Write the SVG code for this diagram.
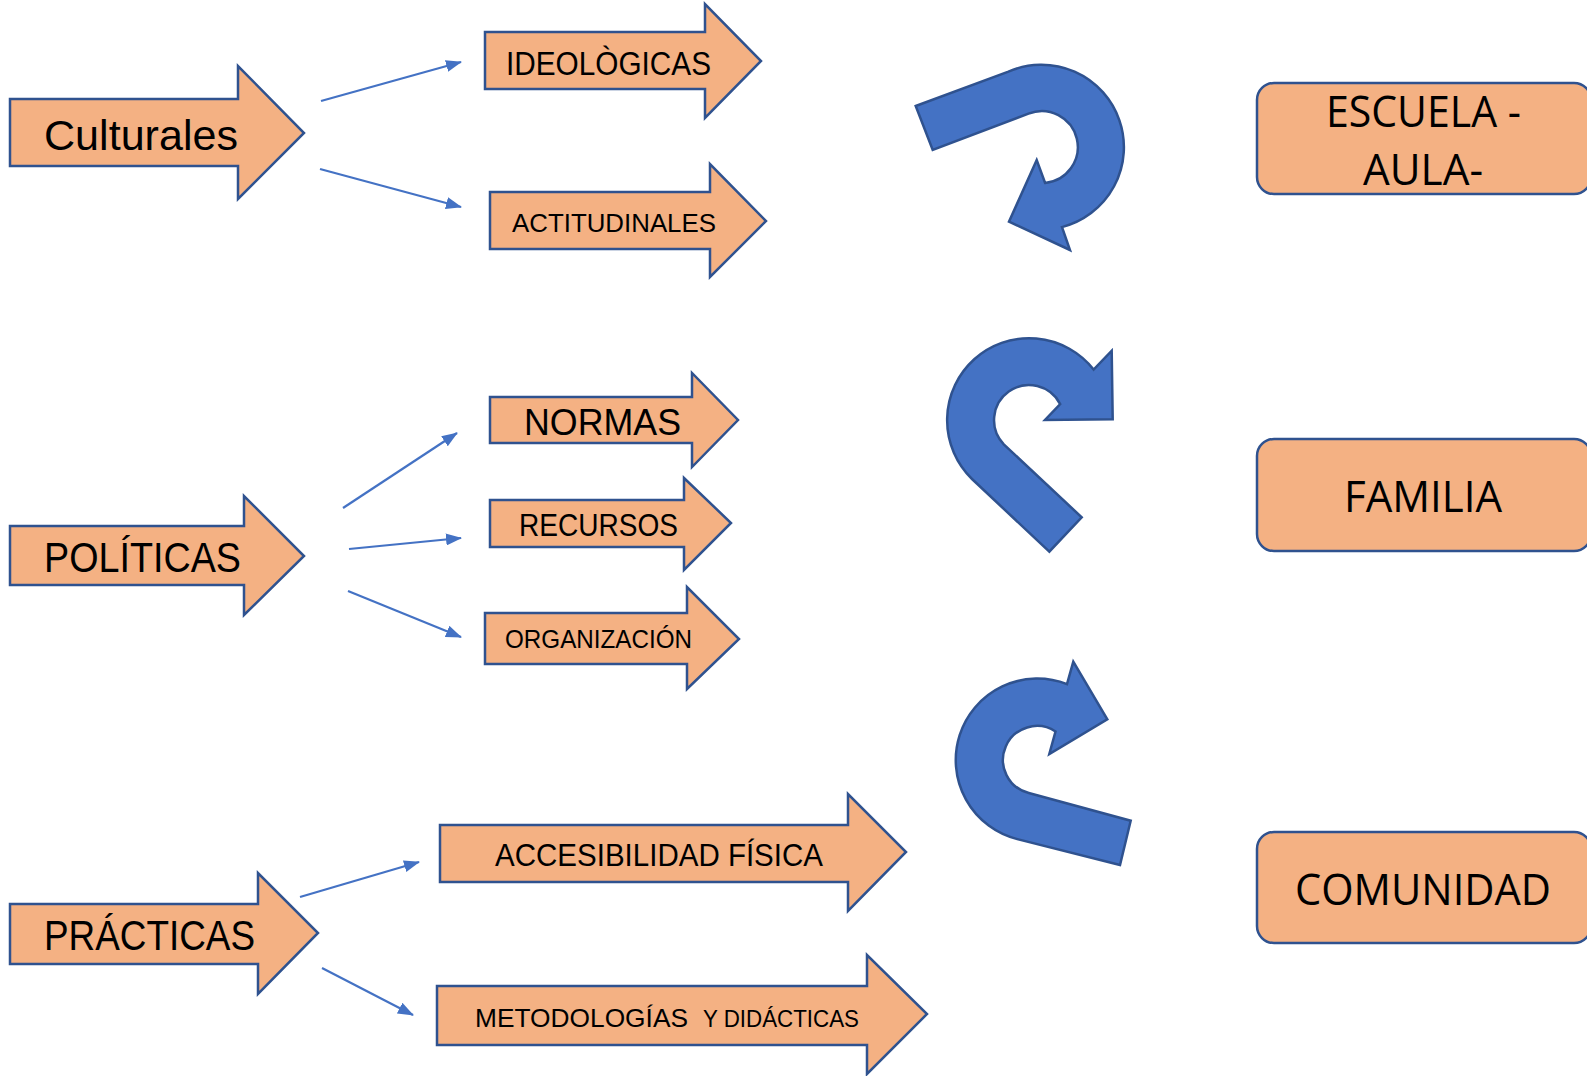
<svg xmlns="http://www.w3.org/2000/svg" width="1587" height="1076" viewBox="0 0 1587 1076">
<defs>
<style>
.blk{fill:#F4B183;stroke:#2F528F;stroke-width:2.5;stroke-linejoin:miter}
.box{fill:#F4B183;stroke:#2F528F;stroke-width:2.5}
.curl{fill:#4472C4;stroke:#2F528F;stroke-width:2.5;stroke-linejoin:miter}
.lbl{font-family:"Liberation Sans",Arial,sans-serif;fill:#000}
.rl{font-family:"Open Sans","Liberation Sans",sans-serif;fill:#000;text-anchor:start}
.con{stroke:#4472C4;stroke-width:2.2;fill:none;marker-end:url(#ah)}
</style>
<marker id="ah" markerUnits="userSpaceOnUse" markerWidth="16" markerHeight="12" refX="15" refY="6" orient="auto">
<path d="M0,0 L16,6 L0,12 Z" fill="#4472C4"/>
</marker>
</defs>

<g id="connectors">
<line class="con" x1="321" y1="101" x2="461" y2="62"/>
<line class="con" x1="320" y1="169" x2="461" y2="207"/>
<line class="con" x1="343" y1="508" x2="457" y2="433"/>
<line class="con" x1="349" y1="549" x2="461" y2="538"/>
<line class="con" x1="348" y1="591" x2="461" y2="637"/>
<line class="con" x1="300" y1="897" x2="419" y2="862"/>
<line class="con" x1="322" y1="968" x2="413" y2="1015"/>
</g>

<g id="culturales">
<path class="blk" d="M10,99 L238,99 L238,66 L304,133 L238,199 L238,166 L10,166 Z"/>
<text class="lbl" x="44" y="150" font-size="43" textLength="194" lengthAdjust="spacingAndGlyphs">Culturales</text>
</g>
<g id="ideologicas">
<path class="blk" d="M485,32 L705,32 L705,4 L761,61 L705,118 L705,89 L485,89 Z"/>
<text class="lbl" x="506" y="75" font-size="33" textLength="205" lengthAdjust="spacingAndGlyphs">IDEOLÒGICAS</text>
</g>
<g id="actitudinales">
<path class="blk" d="M490,192 L710,192 L710,164 L766,221 L710,277 L710,249 L490,249 Z"/>
<text class="lbl" x="512" y="232" font-size="26" textLength="204" lengthAdjust="spacingAndGlyphs">ACTITUDINALES</text>
</g>

<g id="politicas">
<path class="blk" d="M10,526 L244,526 L244,496 L304,556 L244,615 L244,585 L10,585 Z"/>
<text class="lbl" x="44" y="572" font-size="42" textLength="197" lengthAdjust="spacingAndGlyphs">POLÍTICAS</text>
</g>
<g id="normas">
<path class="blk" d="M490,397 L692,397 L692,373 L738,420 L692,467 L692,443 L490,443 Z"/>
<text class="lbl" x="524" y="435" font-size="36" textLength="157" lengthAdjust="spacingAndGlyphs">NORMAS</text>
</g>
<g id="recursos">
<path class="blk" d="M490,500 L684,500 L684,478 L731,523 L684,570 L684,547 L490,547 Z"/>
<text class="lbl" x="519" y="536" font-size="32" textLength="159" lengthAdjust="spacingAndGlyphs">RECURSOS</text>
</g>
<g id="organizacion">
<path class="blk" d="M485,613 L687,613 L687,587 L739,639 L687,689 L687,664 L485,664 Z"/>
<text class="lbl" x="505" y="648" font-size="25" textLength="187" lengthAdjust="spacingAndGlyphs">ORGANIZACIÓN</text>
</g>

<g id="practicas">
<path class="blk" d="M10,904 L258,904 L258,873 L318,933 L258,994 L258,964 L10,964 Z"/>
<text class="lbl" x="44" y="950" font-size="42" textLength="211" lengthAdjust="spacingAndGlyphs">PRÁCTICAS</text>
</g>
<g id="accesibilidad">
<path class="blk" d="M440,825 L848,825 L848,794 L906,852 L848,911 L848,882 L440,882 Z"/>
<text class="lbl" x="495" y="866" font-size="32" textLength="328" lengthAdjust="spacingAndGlyphs">ACCESIBILIDAD FÍSICA</text>
</g>
<g id="metodologias">
<path class="blk" d="M437,986 L867,986 L867,955 L927,1014 L867,1074 L867,1045 L437,1045 Z"/>
<text class="lbl" y="1027" font-size="26"><tspan x="475" textLength="213" lengthAdjust="spacingAndGlyphs">METODOLOGÍAS</tspan><tspan x="703" font-size="23" textLength="156" lengthAdjust="spacingAndGlyphs">Y DIDÁCTICAS</tspan></text>
</g>

<g id="curl1">
<path class="curl" d="M915.7,106 L1008.4,71.6 A82.5,82.5 0 1 1 1062,227.1 L1070,250 L1009,221.7 L1036.7,160 L1045.1,182.9 A36,36 0 1 0 1028.5,113.6 L932.7,150 Z"/>
</g>
<g id="curl2">
<path class="curl" d="M1049.3,551.7 L972,479 A82,82 0 1 1 1093.6,369.5 L1111.7,350.7 L1112.7,419.3 L1045,420 L1060.2,404.1 A35,35 0 1 0 1003.8,444.3 L1081.7,517.3 Z"/>
</g>
<g id="curl3">
<path class="curl" d="M1120,865 L1017.3,839.1 A81.5,81.5 0 1 1 1067,684.2 L1073.3,661.7 L1107.3,719.3 L1049.3,754 L1055.5,731.5 A34,34 0 1 0 1028.8,793 L1130.7,820.7 Z"/>
</g>

<g id="escuela">
<rect class="box" x="1257" y="83" width="334" height="111" rx="17"/>
<text class="rl" x="1326" y="127" font-size="44" textLength="195" lengthAdjust="spacingAndGlyphs">ESCUELA -</text>
<text class="rl" x="1363" y="185" font-size="44" textLength="120" lengthAdjust="spacingAndGlyphs">AULA-</text>
</g>
<g id="familia">
<rect class="box" x="1257" y="439" width="334" height="112" rx="17"/>
<text class="rl" x="1344" y="512" font-size="44" textLength="158" lengthAdjust="spacingAndGlyphs">FAMILIA</text>
</g>
<g id="comunidad">
<rect class="box" x="1257" y="832" width="334" height="111" rx="17"/>
<text class="rl" x="1295" y="905" font-size="44" textLength="256" lengthAdjust="spacingAndGlyphs">COMUNIDAD</text>
</g>
</svg>
